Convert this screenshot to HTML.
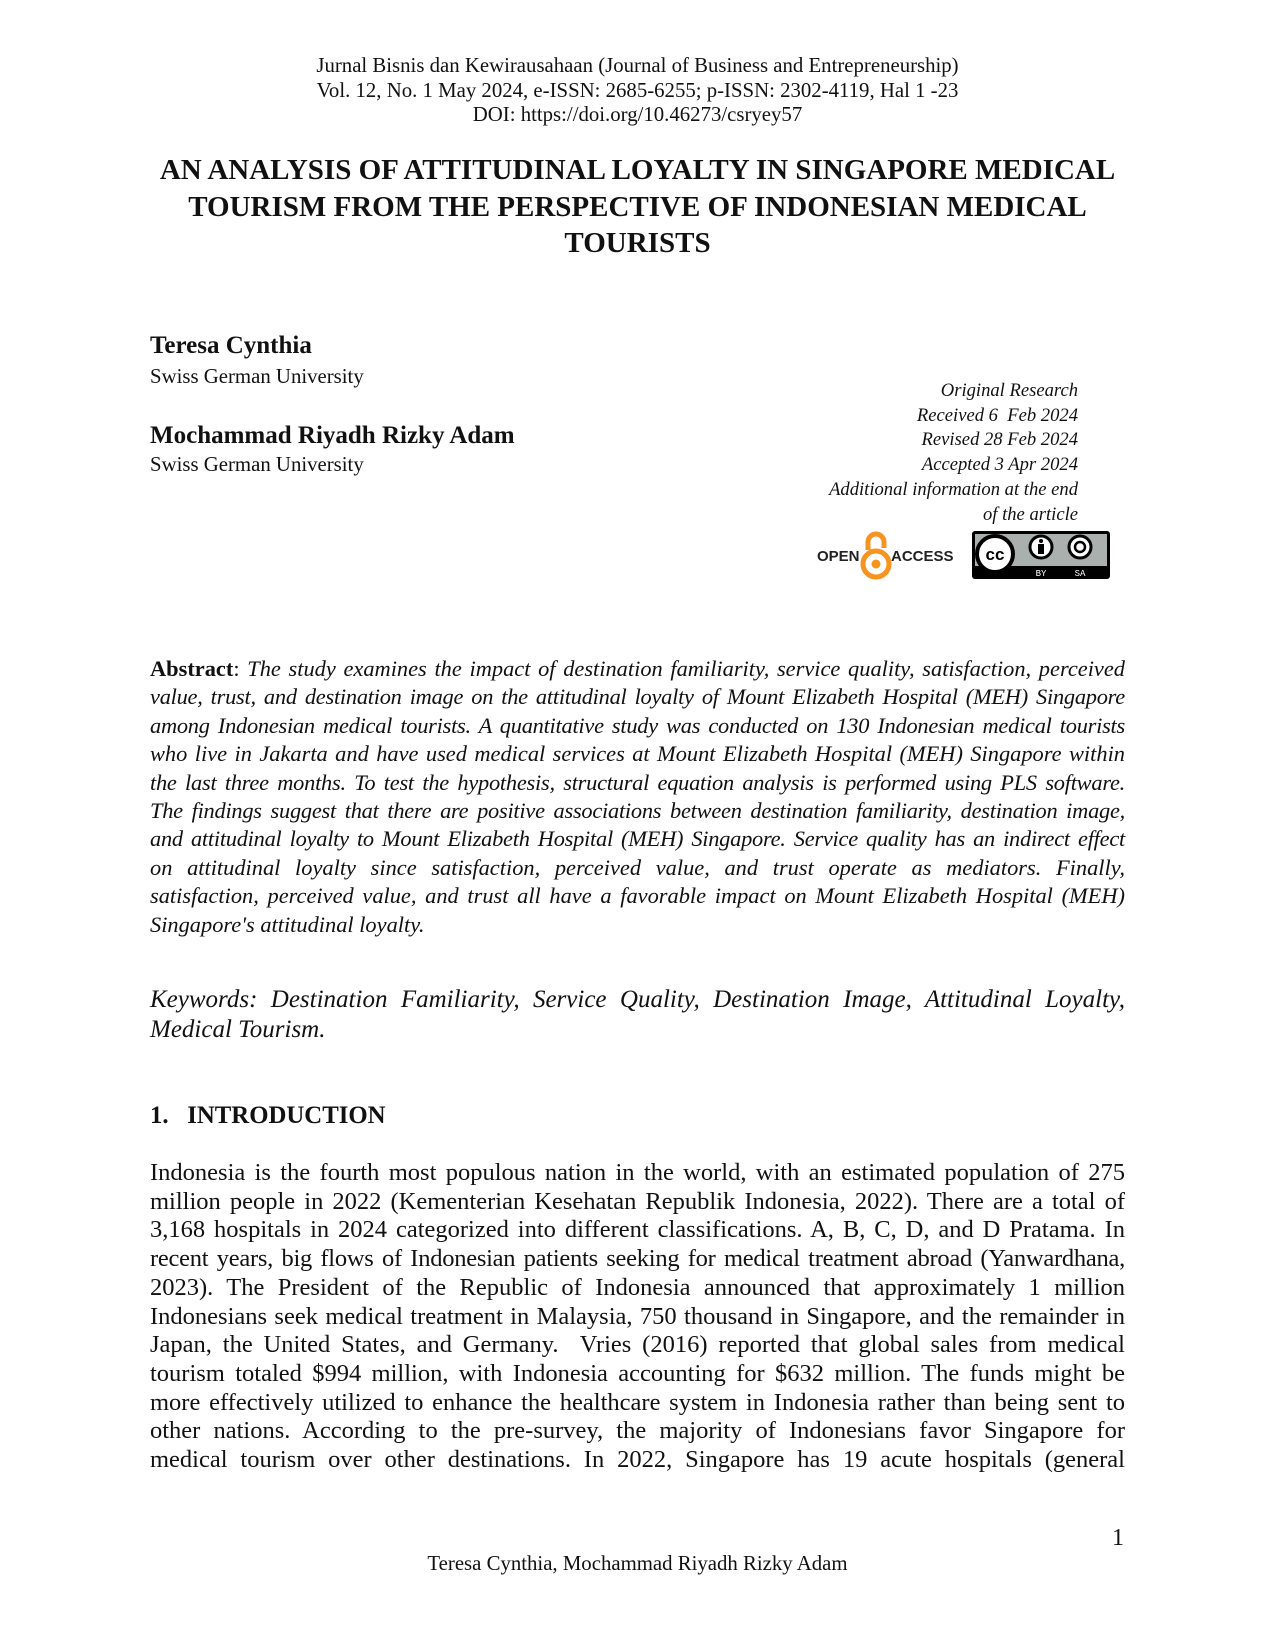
<!DOCTYPE html>
<html><head><meta charset="utf-8"><style>
html,body{margin:0;padding:0;background:#fff;}
body{width:1275px;height:1650px;position:relative;overflow:hidden;font-family:"Liberation Serif",serif;color:#111;}
.a{position:absolute;white-space:nowrap;}
.c{left:0;width:1275px;text-align:center;}
.j{left:150px;width:975px;text-align:justify;text-align-last:justify;}
.ab{font-size:22.4px;line-height:28px;height:28px;font-style:italic;}
.bd{font-size:24.5px;line-height:28px;height:28px;}
.r{right:197px;text-align:right;font-style:italic;font-size:18.6px;line-height:24.7px;}
.t{letter-spacing:-0.25px;}
</style></head><body>
<div class="a c" style="top:54px;font-size:20.8px;line-height:24.5px;">Jurnal Bisnis dan Kewirausahaan (Journal of Business and Entrepreneurship)<br>Vol. 12, No. 1 May 2024, e-ISSN: 2685-6255; p-ISSN: 2302-4119, Hal 1 -23<br>DOI: https://doi.org/10.46273/csryey57</div>
<div class="a c" style="top:152px;font-size:29px;line-height:36.5px;font-weight:bold;">AN ANALYSIS OF ATTITUDINAL LOYALTY IN SINGAPORE MEDICAL<br>TOURISM FROM THE PERSPECTIVE OF INDONESIAN MEDICAL<br>TOURISTS</div>
<div class="a" style="left:150px;top:332px;font-size:25px;font-weight:bold;line-height:28px;">Teresa Cynthia</div>
<div class="a" style="left:150px;top:365px;font-size:20.8px;line-height:24px;">Swiss German University</div>
<div class="a" style="left:150px;top:422px;font-size:25px;font-weight:bold;line-height:28px;">Mochammad Riyadh Rizky Adam</div>
<div class="a" style="left:150px;top:453px;font-size:20.8px;line-height:24px;">Swiss German University</div>
<div class="a r" style="top:379px;">Original Research<br>Received 6&nbsp; Feb 2024<br>Revised 28 Feb 2024<br>Accepted 3 Apr 2024<br>Additional information at the end<br>of the article</div>
<svg class="a" style="left:815px;top:528px" width="145" height="56" viewBox="0 0 145 56">
<text x="2" y="33" font-family="Liberation Sans" font-weight="bold" font-size="15" fill="#222">OPEN</text>
<path d="M53 22 V14 a8 8 0 0 1 16 0 V20" fill="none" stroke="#f7931e" stroke-width="5"/>
<circle cx="61" cy="36" r="13" fill="none" stroke="#f7931e" stroke-width="5"/>
<circle cx="61" cy="36" r="4.5" fill="#f7931e"/>
<text x="76" y="33" font-family="Liberation Sans" font-weight="bold" font-size="15" fill="#222">ACCESS</text>
</svg>
<svg class="a" style="left:971px;top:530px" width="140" height="50" viewBox="0 0 140 50">
<rect x="1" y="1" width="138" height="48" rx="3" fill="#000"/>
<rect x="4" y="4" width="132" height="32" fill="#aab0ad"/>
<circle cx="24" cy="24" r="18" fill="#fff" stroke="#000" stroke-width="4"/>
<text x="24" y="30" text-anchor="middle" font-family="Liberation Sans" font-weight="bold" font-size="17">cc</text>
<circle cx="70" cy="17" r="11" fill="#fff" stroke="#000" stroke-width="3"/>
<circle cx="70" cy="11" r="2" fill="#000"/><rect x="67" y="14" width="6" height="10" fill="#000"/>
<circle cx="109" cy="17" r="11" fill="#fff" stroke="#000" stroke-width="3"/>
<circle cx="109" cy="17" r="5" fill="none" stroke="#000" stroke-width="2.5"/>
<text x="70" y="46" text-anchor="middle" font-family="Liberation Mono" font-size="9" fill="#fff">BY</text>
<text x="109" y="46" text-anchor="middle" font-family="Liberation Mono" font-size="9" fill="#fff">SA</text>
</svg>

<div class="a j ab" style="top:655px;"><b style="font-style:normal">Abstract</b><span style="font-style:normal">:</span> The study examines the impact of destination familiarity, service quality, satisfaction, perceived</div>
<div class="a j ab t" style="top:683.4px;">value, trust, and destination image on the attitudinal loyalty of Mount Elizabeth Hospital (MEH) Singapore</div>
<div class="a j ab t" style="top:711.8px;">among Indonesian medical tourists. A quantitative study was conducted on 130 Indonesian medical tourists</div>
<div class="a j ab" style="top:740.2px;">who live in Jakarta and have used medical services at Mount Elizabeth Hospital (MEH) Singapore within</div>
<div class="a j ab t" style="top:768.6px;">the last three months. To test the hypothesis, structural equation analysis is performed using PLS software.</div>
<div class="a j ab t" style="top:797px;">The findings suggest that there are positive associations between destination familiarity, destination image,</div>
<div class="a j ab t" style="top:825.4px;">and attitudinal loyalty to Mount Elizabeth Hospital (MEH) Singapore. Service quality has an indirect effect</div>
<div class="a j ab" style="top:853.8px;">on attitudinal loyalty since satisfaction, perceived value, and trust operate as mediators. Finally,</div>
<div class="a j ab" style="top:882.2px;">satisfaction, perceived value, and trust all have a favorable impact on Mount Elizabeth Hospital (MEH)</div>
<div class="a ab" style="left:150px;top:910.6px;">Singapore's attitudinal loyalty.</div>

<div class="a j" style="top:985px;font-size:25px;line-height:29px;font-style:italic;">Keywords: Destination Familiarity, Service Quality, Destination Image, Attitudinal Loyalty,</div>
<div class="a" style="left:150px;top:1015px;font-size:25px;line-height:29px;font-style:italic;">Medical Tourism.</div>

<div class="a" style="left:150px;top:1102px;font-size:24.8px;line-height:28px;font-weight:bold;">1.&nbsp;&nbsp; INTRODUCTION</div>

<div class="a j bd" style="top:1159px;">Indonesia is the fourth most populous nation in the world, with an estimated population of 275</div>
<div class="a j bd" style="top:1187.7px;">million people in 2022 (Kementerian Kesehatan Republik Indonesia, 2022). There are a total of</div>
<div class="a j bd" style="top:1216.4px;">3,168 hospitals in 2024 categorized into different classifications. A, B, C, D, and D Pratama. In</div>
<div class="a j bd t" style="top:1245.1px;">recent years, big flows of Indonesian patients seeking for medical treatment abroad (Yanwardhana,</div>
<div class="a j bd" style="top:1273.8px;">2023). The President of the Republic of Indonesia announced that approximately 1 million</div>
<div class="a j bd" style="top:1302.5px;">Indonesians seek medical treatment in Malaysia, 750 thousand in Singapore, and the remainder in</div>
<div class="a j bd" style="top:1331.2px;">Japan, the United States, and Germany.&nbsp; Vries (2016) reported that global sales from medical</div>
<div class="a j bd" style="top:1359.9px;">tourism totaled $994 million, with Indonesia accounting for $632 million. The funds might be</div>
<div class="a j bd" style="top:1388.6px;">more effectively utilized to enhance the healthcare system in Indonesia rather than being sent to</div>
<div class="a j bd" style="top:1417.3px;">other nations. According to the pre-survey, the majority of Indonesians favor Singapore for</div>
<div class="a j bd" style="top:1446px;">medical tourism over other destinations. In 2022, Singapore has 19 acute hospitals (general</div>

<div class="a" style="left:1112px;top:1524px;font-size:24px;line-height:28px;">1</div>
<div class="a c" style="top:1552px;font-size:20.8px;line-height:24px;">Teresa Cynthia, Mochammad Riyadh Rizky Adam</div>
</body></html>
